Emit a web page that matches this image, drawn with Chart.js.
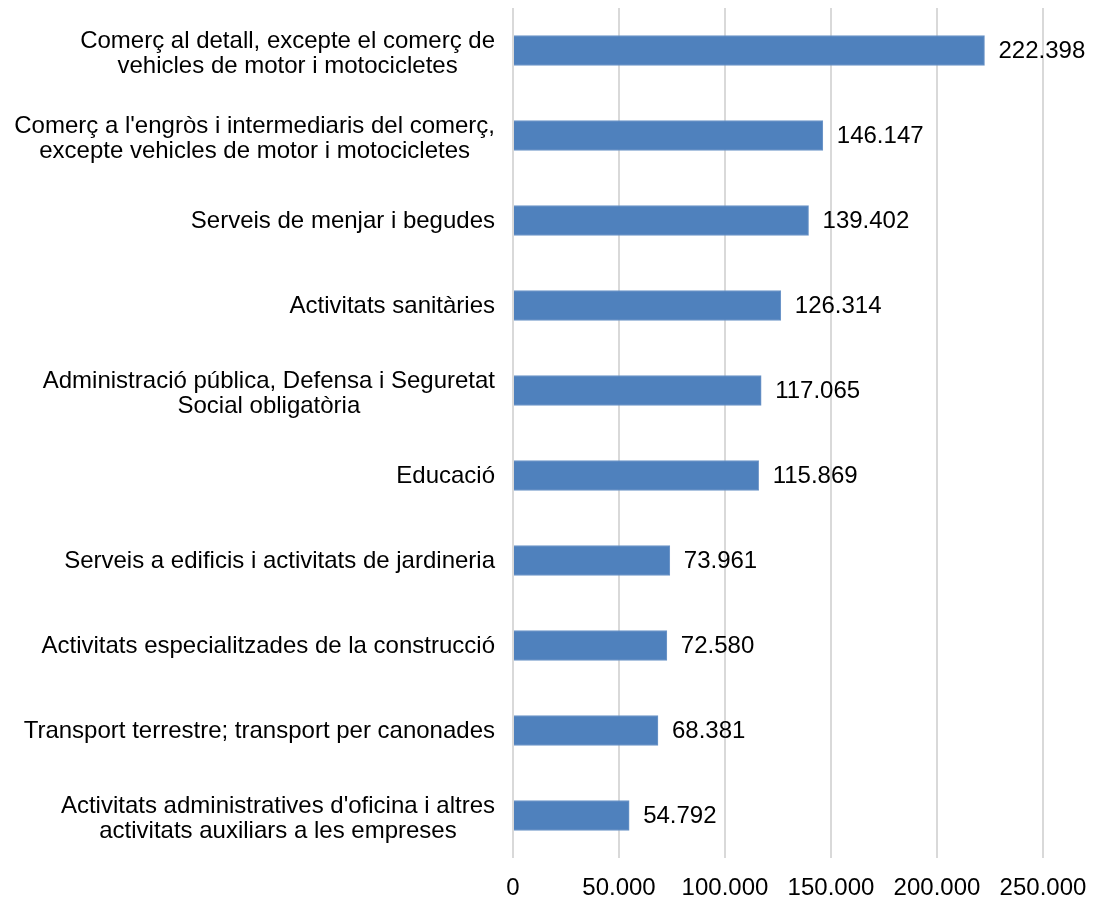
<!DOCTYPE html>
<html>
<head>
<meta charset="utf-8">
<script src="https://cdn.jsdelivr.net/npm/chart.js@4"></script>
<style>
  html, body { margin: 0; padding: 0; background: #fff; }
  #wrap { width: 1093px; height: 900px; }
</style>
</head>
<body>
<div id="wrap"><canvas id="barChart"></canvas></div>
<script>
const categories = [
  ['Comerç al detall, excepte el comerç de', 'vehicles de motor i motocicletes'],
  ["Comerç a l'engròs i intermediaris del comerç,", 'excepte vehicles de motor i motocicletes'],
  'Serveis de menjar i begudes',
  'Activitats sanitàries',
  ['Administració pública, Defensa i Seguretat', 'Social obligatòria'],
  'Educació',
  'Serveis a edificis i activitats de jardineria',
  'Activitats especialitzades de la construcció',
  'Transport terrestre; transport per canonades',
  ["Activitats administratives d'oficina i altres", 'activitats auxiliars a les empreses']
];
const values = [222398, 146147, 139402, 126314, 117065, 115869, 73961, 72580, 68381, 54792];
const xTicks = [0, 50000, 100000, 150000, 200000, 250000];

const fontFamily = "'Liberation Sans', Arial, sans-serif";

function fmt(n) {
  return String(n).replace(/\B(?=(\d{3})+(?!\d))/g, '.');
}

// value labels at the end of each bar
const valueLabels = {
  id: 'valueLabels',
  afterDatasetsDraw(chart) {
    const c = chart.ctx;
    const meta = chart.getDatasetMeta(0);
    c.save();
    c.font = '24px ' + fontFamily;
    c.fillStyle = '#000';
    c.textAlign = 'left';
    c.textBaseline = 'middle';
    meta.data.forEach((bar, i) => {
      c.fillText(fmt(values[i]), bar.x + 14, bar.y + 1);
    });
    c.restore();
  }
};

// category labels: block right-aligned, lines centred on each other
const categoryLabels = {
  id: 'categoryLabels',
  afterDraw(chart) {
    const c = chart.ctx;
    const y = chart.scales.y;
    const right = chart.chartArea.left - 18;
    const lineH = 25;
    c.save();
    c.font = '24px ' + fontFamily;
    c.fillStyle = '#000';
    c.textAlign = 'center';
    c.textBaseline = 'middle';
    categories.forEach((lab, i) => {
      const lines = Array.isArray(lab) ? lab : [lab];
      const w = Math.max(...lines.map(l => c.measureText(l).width));
      const cx = right - w / 2;
      const cy = y.getPixelForTick(i) + (lines.length > 1 ? 3 : 1);
      lines.forEach((l, j) => {
        c.fillText(l, cx, cy + (j - (lines.length - 1) / 2) * lineH);
      });
    });
    c.restore();
  }
};

new Chart(document.getElementById('barChart').getContext('2d'), {
  type: 'bar',
  data: {
    labels: categories,
    datasets: [{
      data: values,
      backgroundColor: '#4f81bd',
      borderColor: '#6f97c9',
      borderWidth: 1,
      barThickness: 30
    }]
  },
  options: {
    indexAxis: 'y',
    responsive: true,
    maintainAspectRatio: false,
    animation: false,
    layout: { padding: { top: 8, right: 50, left: 0, bottom: 0 } },
    plugins: {
      legend: { display: false },
      tooltip: { enabled: false }
    },
    scales: {
      x: {
        min: 0,
        max: 250000,
        afterBuildTicks: (scale) => { scale.ticks = xTicks.map(v => ({ value: v })); },
        afterFit: (scale) => {
          scale.height = 42;
          scale.paddingLeft = 0;
          scale.paddingRight = 0;
        },
        grid: { color: '#d9d9d9', lineWidth: 2, drawTicks: false },
        border: { display: false },
        ticks: {
          padding: 16,
          color: '#000',
          font: { size: 24, family: fontFamily },
          maxRotation: 0,
          callback: (v) => fmt(v)
        }
      },
      y: {
        afterFit: (scale) => {
          scale.width = 513;
          scale.paddingTop = 0;
          scale.paddingBottom = 0;
        },
        grid: { display: false, drawTicks: false },
        border: { display: false },
        ticks: { display: false }
      }
    }
  },
  plugins: [valueLabels, categoryLabels]
});
</script>
</body>
</html>
